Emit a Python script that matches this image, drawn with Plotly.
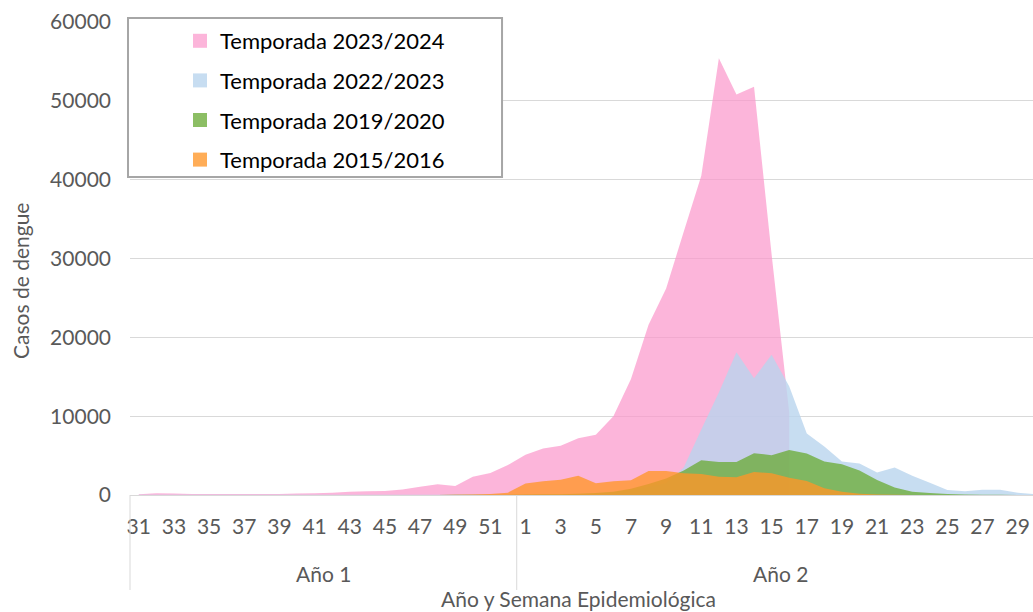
import plotly.graph_objects as go

# Epidemiological weeks: 31-52 of year 1, then 1-30 of year 2
weeks = list(range(31, 53)) + list(range(1, 31))

# Weekly dengue cases per season (None = no data yet)
t2023_2024 = [100, 230, 180, 140, 130, 130, 120, 130, 140, 180, 230, 300, 400, 470, 520, 700,
              1050, 1350, 1150, 2300, 2800, 3800,
              5100, 5900, 6250, 7200, 7650, 10000, 14700, 21600, 26200, 33400, 40500,
              55400, 50800, 51800, 30500, 10500] + [None] * 14
t2022_2023 = [20, 20, 20, 20, 20, 20, 20, 20, 20, 20, 20, 20, 20, 20, 20, 20, 20, 20, 30, 30, 40, 50,
              60, 80, 120, 160, 250, 400, 650, 1000, 1500, 3500, 8300, 13000, 18100, 14800,
              17800, 13800, 7800, 6150, 4250, 4000, 2850, 3500, 2450, 1550, 650, 470, 680,
              680, 300, 100]
t2019_2020 = [10] * 18 + [20, 20, 30, 40,
              50, 80, 100, 150, 250, 400, 800, 1400, 2100, 3100, 4400, 4200, 4200, 5300,
              5050, 5700, 5250, 4250, 3900, 3100, 1900, 950, 400, 250, 120, 60, 30, 20, 10, 5]
t2015_2016 = [0] * 18 + [30, 60, 120, 300,
              1450, 1750, 1950, 2450, 1480, 1740, 1860, 3050, 3050, 2760, 2670, 2330, 2250,
              2920, 2750, 2200, 1780, 850, 420, 150, 60, 30, 10, 5, 0, 0, 0, 0, 0, 0]

season_names = ["Temporada 2023/2024", "Temporada 2022/2023",
                "Temporada 2019/2020", "Temporada 2015/2016"]
season_values = [t2023_2024, t2022_2023, t2019_2020, t2015_2016]
season_colors = ["rgba(251,150,203,0.7)", "rgba(185,212,238,0.8)",
                 "rgba(108,172,56,0.78)", "rgba(255,150,40,0.78)"]

year_labels = ["Año 1", "Año 2"]

FONT = "Lato, 'Open Sans', sans-serif"
GREY = "#595959"

idx = list(range(len(weeks)))
x_range = [-0.5, 50.87]


def xp(v):
    """Category position -> paper fraction."""
    return (v - x_range[0]) / (x_range[1] - x_range[0])


def yp(py):
    """Pixel row -> paper fraction (plot spans rows 22..495)."""
    return (495 - py) / 473


fig = go.Figure()

# Overlapping area series (drawn back to front)
for name, vals, col in zip(season_names, season_values, season_colors):
    fig.add_trace(go.Scatter(
        x=idx, y=vals, mode="none", fill="tozeroy", fillcolor=col,
        name=name, showlegend=False, hoverinfo="skip",
    ))

# Square legend keys
for name, col in zip(season_names, season_colors):
    fig.add_trace(go.Scatter(
        x=[None], y=[None], mode="markers", name=name, legendgroup=name,
        marker=dict(symbol="square", size=14, color=col, line=dict(width=0)),
    ))

tick_vals = idx[::2]
tick_text = [str(w) for w in weeks[::2]]

shapes = [
    # legend frame
    dict(type="rect", xref="paper", yref="paper", x0=-0.0022, x1=0.412, y0=yp(177), y1=yp(18),
         line=dict(color="#A6A6A6", width=2), fillcolor="white", layer="above"),
    # year group dividers below the axis
    dict(type="line", xref="paper", yref="paper", x0=xp(-0.5), x1=xp(-0.5), y0=0, y1=yp(590),
         line=dict(color="#D9D9D9", width=1)),
    dict(type="line", xref="paper", yref="paper", x0=xp(21.5), x1=xp(21.5), y0=0, y1=yp(590),
         line=dict(color="#D9D9D9", width=1)),
]

label_font = dict(family=FONT, size=21, color=GREY)
annotations = [
    dict(text=year_labels[0], xref="paper", yref="paper", x=xp(10.5), y=yp(573),
         xanchor="center", yanchor="middle", showarrow=False, font=label_font),
    dict(text=year_labels[1], xref="paper", yref="paper", x=xp(36.5), y=yp(573),
         xanchor="center", yanchor="middle", showarrow=False, font=label_font),
    dict(text="Año y Semana Epidemiológica", xref="paper", yref="paper",
         x=(578 - 130) / 903, y=yp(612), xanchor="center", yanchor="bottom",
         borderpad=0, showarrow=False, font=label_font),
    dict(text="Casos de dengue", xref="paper", yref="paper", textangle=-90,
         x=(20 - 130) / 903, y=yp(281), xanchor="center", yanchor="middle",
         showarrow=False, font=label_font),
]

fig.update_layout(
    width=1033, height=612,
    margin=dict(l=130, r=0, t=22, b=117),
    paper_bgcolor="white", plot_bgcolor="white",
    font=dict(family=FONT, color=GREY),
    shapes=shapes, annotations=annotations,
    legend=dict(
        x=(180 - 130) / 903, xanchor="left", y=yp(20), yanchor="top",
        bgcolor="rgba(0,0,0,0)", borderwidth=0, traceorder="grouped", tracegroupgap=8,
        font=dict(family=FONT, size=22, color="#000000"),
    ),
    xaxis=dict(
        range=x_range, tickmode="array", tickvals=tick_vals, ticktext=tick_text,
        showgrid=False, zeroline=False, showline=True, linecolor="#D9D9D9", linewidth=1,
        ticks="", ticklabelstandoff=13, tickangle=0,
        tickfont=dict(family=FONT, size=21, color=GREY),
    ),
    yaxis=dict(
        range=[0, 60000], dtick=10000, tickformat="d",
        showgrid=True, gridcolor="#D9D9D9", gridwidth=1,
        zeroline=False, showline=False, ticks="", ticklabelstandoff=18,
        tickfont=dict(family=FONT, size=21, color=GREY),
    ),
)

fig.write_html("out.html")
